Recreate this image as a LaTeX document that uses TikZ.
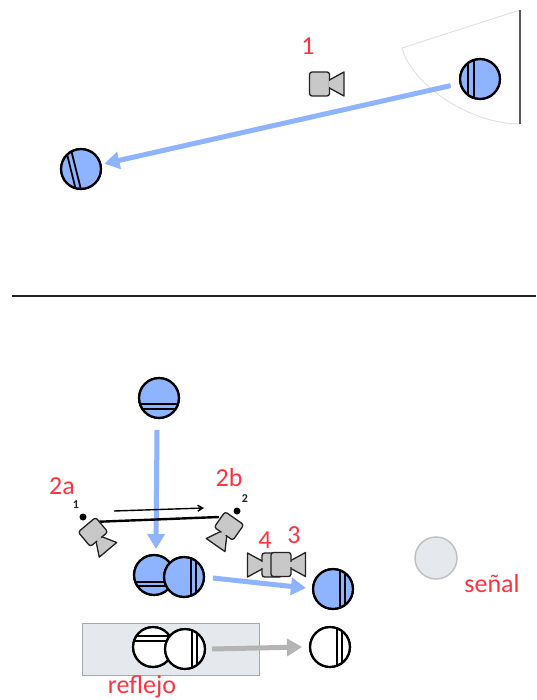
\documentclass[tikz,border=0pt]{standalone}
\usepackage{fontspec}
\setmainfont{Carlito}
\usetikzlibrary{arrows.meta}
\definecolor{ballblue}{HTML}{8FB4FF}
\definecolor{camgrey}{HTML}{C8C8C8}
\definecolor{inkdark}{HTML}{222222}
\definecolor{labelred}{HTML}{FF3340}
\definecolor{panelgrey}{HTML}{E5E9ED}
\definecolor{panelline}{HTML}{A6A9AC}
\tikzset{
  ballbase/.style={circle,draw=black,line width=2.1pt,inner sep=0pt,minimum size=40pt},
  stripe/.style={draw=black,line width=1.8pt},
  bluearrow/.style={draw=ballblue,line width=5pt,-{Triangle[length=15pt,width=17pt]}},
  greyarrow/.style={draw=camgrey!90!black,line width=5pt,-{Triangle[length=15pt,width=17pt]}},
  redlabel/.style={text=labelred,font=\fontsize{26}{28}\selectfont,inner sep=0pt},
  tinylabel/.style={text=inkdark,font=\fontsize{12}{13}\selectfont\bfseries,inner sep=0pt},
  cambody/.style={fill=camgrey,draw=inkdark,line width=1.3pt,rounded corners=2.5pt,line join=round},
  camlens/.style={fill=camgrey,draw=inkdark,line width=1.3pt,line join=round},
}
% name, x, y, rotation, offset 1, offset 2, fill
\newcommand{\myball}[7]{%
  \node[ballbase,fill=#7] (#1) at (#2,#3) {};
  \begin{scope}[shift={(#2,#3)},rotate=#4]
    \clip (0,0) circle (20);
    \draw[stripe] (#5,-21) -- (#5,21);
    \draw[stripe] (#6,-21) -- (#6,21);
  \end{scope}
  \draw[black,line width=2.1pt] (#1.center) circle (20);
}
% name, x, y, direction (screen degrees, clockwise), scale
\newcommand{\mycam}[5]{%
  \begin{scope}[shift={(#2,#3)},rotate=-#4,scale=#5]
    \coordinate (#1) at (0,0);
    \draw[camlens] (8,-3) -- (24.5,-12) -- (24.5,12) -- (8,3) -- cycle;
    \draw[cambody] (-10,-12) rectangle (10,12);
    \fill[camgrey] (9,-2.6) rectangle (11,2.6);
  \end{scope}
}
\begin{document}
\begin{tikzpicture}[x=1pt,y=-1pt]
\useasboundingbox (0,0) rectangle (536,700);
\fill[white] (0,0) rectangle (536,700);

% top view
\draw[black!12,line width=0.9pt] (520,10) -- (402,48) .. controls (412,85) and (470,124) .. (520,124);
\draw[black!65,line width=1.6pt] (520,10) -- (520,124);
\mycam{camone}{319.5}{84}{0}{1}
\myball{ballsource}{480}{79}{0}{-12}{-6}{ballblue}
\myball{ballview}{81}{169}{14}{-10}{-5}{ballblue}
\draw[bluearrow,shorten <=9pt,shorten >=3pt] (ballsource) -- (ballview);
\node[redlabel] (lblone) at (308,46) {1};

% divider
\coordinate (ruleleft) at (12,296);
\coordinate (ruleright) at (536,296);
\draw[inkdark,line width=1.8pt] (ruleleft) -- (ruleright);

% panel
\node[fill=panelgrey,draw=panelline,line width=1pt,minimum width=177pt,minimum height=52pt,inner sep=0pt] (panel) at (170.5,649) {};

% balls below
\myball{balltop}{159}{398}{90}{-6}{-11}{ballblue}
\myball{ballleft}{154}{575}{90}{-7}{-11}{ballblue}
\myball{ballright}{184}{577}{0}{7}{12}{ballblue}
\myball{ballout}{333}{589}{0}{7}{12}{ballblue}
\myball{refleft}{153}{647}{90}{11}{6}{white}
\myball{refright}{185}{649}{0}{7}{12}{white}
\myball{refout}{330}{647}{0}{7}{12}{white}

% signal
\node[circle,fill=panelgrey,draw=black!25,line width=1.4pt,minimum size=42pt,inner sep=0pt] (signal) at (436,558) {};

% arrows
\coordinate (downstart) at (157,430);
\coordinate (downend) at (156,549);
\draw[bluearrow] (downstart) -- (downend);
\coordinate (mainstart) at (213,578);
\coordinate (mainend) at (306,588);
\draw[bluearrow] (mainstart) -- (mainend);
\coordinate (greystart) at (212,649);
\coordinate (greyend) at (302,647);
\draw[greyarrow] (greystart) -- (greyend);

% stereo pair
\coordinate (baseleft) at (92,522);
\coordinate (baseright) at (219,517);
\draw[black,line width=2.4pt] (baseleft) -- (baseright);
\coordinate (travelstart) at (114,511);
\coordinate (travelend) at (204,508);
\draw[black,line width=1.4pt,-{Straight Barb[length=5pt,width=6pt]}] (travelstart) -- (travelend);
\mycam{camtwoa}{93}{532}{50}{0.95}
\mycam{camtwob}{229}{526}{125}{0.95}
\node[circle,fill=black,inner sep=0pt,minimum size=7pt] (dota) at (83,517) {};
\node[circle,fill=black,inner sep=0pt,minimum size=7pt] (dotb) at (237,511) {};
\node[tinylabel] (smallone) at (76,505) {1};
\node[tinylabel] (smalltwo) at (245,499) {2};

% cameras 4 and 3
\mycam{camfour}{272}{565}{180}{1}
\mycam{camthree}{281}{564.5}{0}{1}

% labels
\node[redlabel] (lbltwoa) at (62,486) {2a};
\node[redlabel] (lbltwob) at (229,478) {2b};
\node[redlabel] (lblfour) at (265,540) {4};
\node[redlabel] (lblthree) at (294,535) {3};
\node[redlabel] (lblsignal) at (492,584) {señal};
\node[redlabel] (lblreflex) at (142,687) {reflejo};
\end{tikzpicture}
\end{document}
